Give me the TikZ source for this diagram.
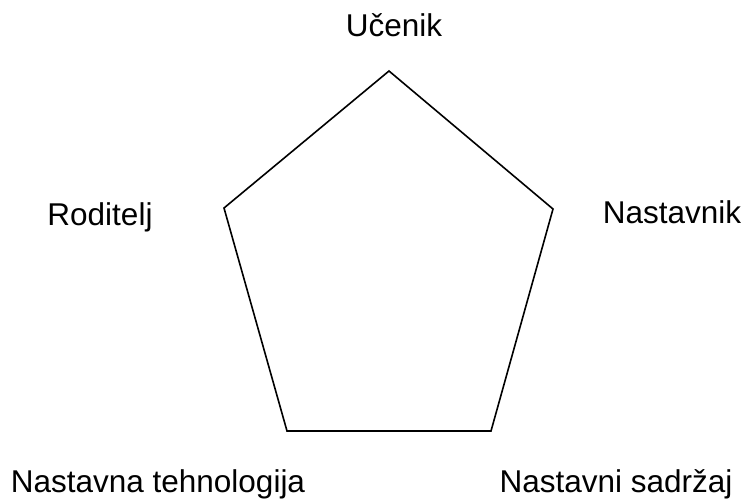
\documentclass[tikz,border=0pt]{standalone}
\usepackage{fontspec}
\setmainfont{Liberation Sans}
\begin{document}
\begin{tikzpicture}[x=1pt,y=-1pt,
  lbl/.style={anchor=base,inner sep=0pt,font=\fontsize{31.5}{38}\selectfont},
  edge/.style={draw=black,line width=1.6pt,line join=miter}]
\useasboundingbox (0,0) rectangle (744,500);
\coordinate (pT) at (389,71);
\coordinate (pR) at (553,209);
\coordinate (pBR) at (491,431);
\coordinate (pBL) at (287,431);
\coordinate (pL) at (224,208);
\draw[edge] (pT) -- (pR) -- (pBR) -- (pBL) -- (pL) -- cycle;
\node[lbl] (ucenik) at (394,37) {Učenik};
\node[lbl] (nastavnik) at (672,223) {Nastavnik};
\node[lbl] (roditelj) at (100,225) {Roditelj};
\node[lbl] (tehno) at (158,492) {Nastavna tehnologija};
\node[lbl] (sadrzaj) at (616,492) {Nastavni sadržaj};
\end{tikzpicture}
\end{document}
